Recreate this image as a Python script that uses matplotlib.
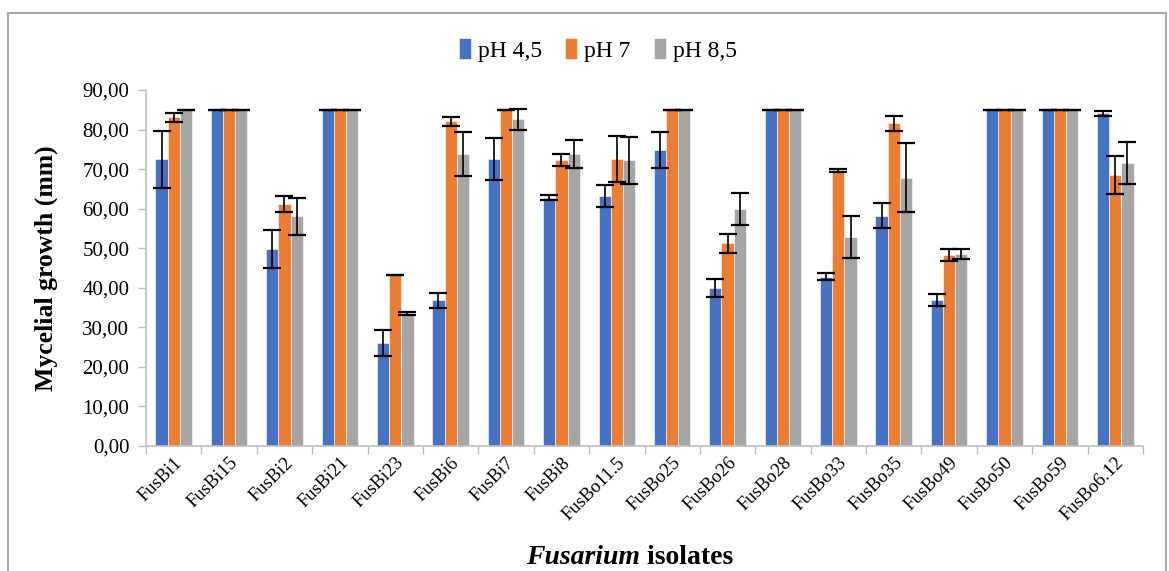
import matplotlib
matplotlib.use("Agg")
import matplotlib.pyplot as plt
import numpy as np
from matplotlib.patches import Rectangle
from matplotlib.ticker import FuncFormatter, FixedLocator

plt.rcParams['font.family'] = ['Liberation Serif', 'DejaVu Serif']

isolates = ["FusBi1", "FusBi15", "FusBi2", "FusBi21", "FusBi23", "FusBi6", "FusBi7",
            "FusBi8", "FusBo11.5", "FusBo25", "FusBo26", "FusBo28", "FusBo33",
            "FusBo35", "FusBo49", "FusBo50", "FusBo59", "FusBo6.12"]

ph45 = [72.5, 85, 49.8, 85, 26.1, 36.9, 72.5, 62.8, 63.2, 74.8, 39.9, 85, 42.8, 58.2, 36.9, 85, 85, 84.1]
ph45_err = [7.2, 0, 4.7, 0, 3.25, 1.9, 5.3, 0.6, 2.9, 4.55, 2.35, 0, 0.95, 3.2, 1.45, 0, 0, 0.65]
ph7 = [83.1, 85, 61.1, 85, 43.3, 82.1, 85, 72.2, 72.5, 85, 51.2, 85, 69.6, 81.6, 48.2, 85, 85, 68.5]
ph7_err = [1.1, 0, 2.0, 0, 0, 1.15, 0, 1.5, 5.75, 0, 2.45, 0, 0.35, 1.9, 1.5, 0, 0, 4.9]
ph85 = [85, 85, 58.1, 85, 33.5, 73.8, 82.6, 73.8, 72.2, 85, 59.8, 85, 52.8, 67.8, 48.6, 85, 85, 71.5]
ph85_err = [0, 0, 4.7, 0, 0.45, 5.5, 2.7, 3.6, 5.9, 0, 4.05, 0, 5.35, 8.7, 1.25, 0, 0, 5.35]

series = [("pH 4,5", ph45, ph45_err, "#4472C4"),
          ("pH 7", ph7, ph7_err, "#ED7D31"),
          ("pH 8,5", ph85, ph85_err, "#A5A5A5")]

fig = plt.figure(figsize=(11.69, 5.71), dpi=100)
ax = fig.add_axes([146 / 1169, 1 - 446 / 571, 997 / 1169, 356 / 571])

x = np.arange(len(isolates))
w = 0.22
handles = []
for i, (name, vals, errs, col) in enumerate(series):
    pos = x + (i - 1) * w
    b = ax.bar(pos, vals, width=w, color=col, edgecolor="white", linewidth=0.4,
               label=name, zorder=2)
    ax.errorbar(pos, vals, yerr=errs, fmt="none", ecolor="black", elinewidth=1.2,
                capsize=6.5, capthick=1.6, zorder=3)
    handles.append(b)

ax.set_xlim(-0.5, len(isolates) - 0.5)
ax.set_ylim(0, 90)
ax.set_yticks(np.arange(0, 91, 10))
ax.yaxis.set_major_formatter(FuncFormatter(lambda v, p: f"{v:.2f}".replace(".", ",")))

ax.set_xticks(x)
ax.set_xticklabels(isolates, rotation=45, ha="right", va="top", rotation_mode="anchor",
                   fontsize=13.5)
ax.xaxis.set_minor_locator(FixedLocator(np.arange(-0.5, len(isolates), 1.0)))
ax.tick_params(axis="x", which="major", length=0, pad=6)
ax.tick_params(axis="x", which="minor", length=6, color="#BFBFBF", width=1)
ax.tick_params(axis="y", length=6, color="#BFBFBF", width=1, labelsize=15, pad=6)

for s in ["top", "right"]:
    ax.spines[s].set_visible(False)
for s in ["left", "bottom"]:
    ax.spines[s].set_color("#BFBFBF")
    ax.spines[s].set_linewidth(1.2)

ax.set_ylabel("Mycelial growth (mm)", fontsize=18.5, fontweight="bold")
ax.yaxis.set_label_coords(-0.088, 0.5)

fig.text(640 / 1169, 1 - 558 / 571, "Fusarium", fontsize=20, fontweight="bold",
         fontstyle="italic", ha="right", va="center")
fig.text(640 / 1169, 1 - 558 / 571, " isolates", fontsize=20, fontweight="bold",
         ha="left", va="center")

fig.legend(handles=handles, loc="center", bbox_to_anchor=(598 / 1169, 1 - 50 / 571),
           ncol=3, frameon=False, fontsize=17, handlelength=0.5, handleheight=1.0,
           handletextpad=0.3, columnspacing=1.0)

fig.patches.append(Rectangle((8 / 1169, -0.05), (1166 - 8) / 1169, 1.05 - 13 / 571,
                             transform=fig.transFigure, fill=False,
                             edgecolor="#A6A6A6", linewidth=1.5))

fig.savefig("out.png", dpi=100)
